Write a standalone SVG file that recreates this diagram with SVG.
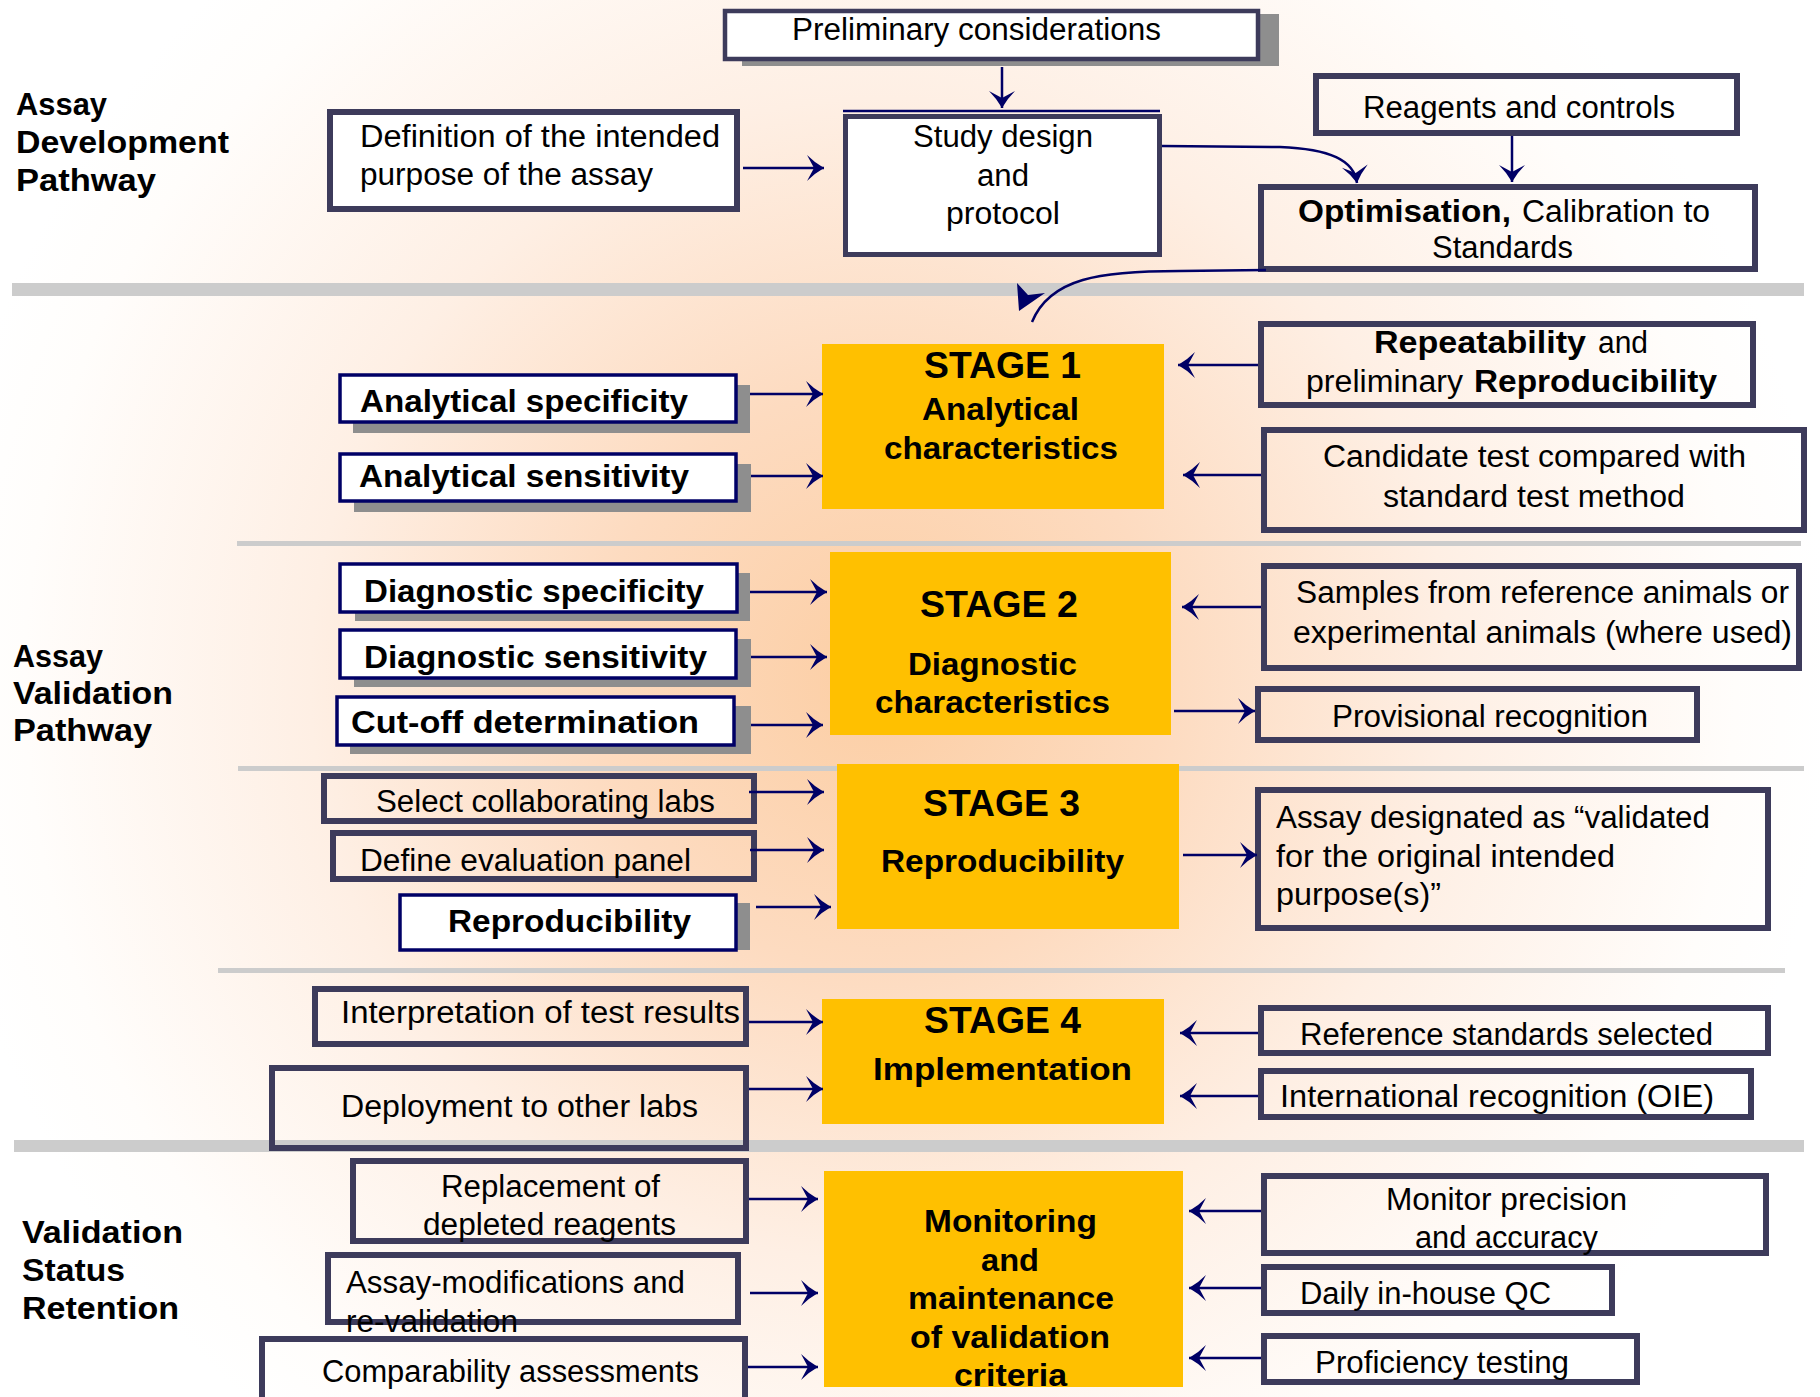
<svg xmlns="http://www.w3.org/2000/svg" width="1820" height="1397" viewBox="0 0 1820 1397">
<defs>
<radialGradient id="bg" gradientUnits="userSpaceOnUse" cx="880" cy="680" r="950" gradientTransform="translate(880 680) scale(1 1.02) translate(-880 -680)">
<stop offset="0" stop-color="#FCCEA4"/>
<stop offset="0.3" stop-color="#FDDBC0"/>
<stop offset="0.6" stop-color="#FEEFE4"/>
<stop offset="0.9" stop-color="#FFFDFB"/>
<stop offset="1" stop-color="#FFFFFF"/>
</radialGradient>
<marker id="ah" markerUnits="userSpaceOnUse" viewBox="-18 -14 19 28" refX="0" refY="0" markerWidth="19" markerHeight="28" orient="auto">
<path d="M0,0 Q-9,-5 -17,-13 L-10,0 L-17,13 Q-9,5 0,0 Z" fill="#000066"/>
</marker>
<style>
.t{font-family:"Liberation Sans",Arial,sans-serif;font-size:31px;fill:#000}
.b{font-weight:bold}
.st{font-size:37px;font-weight:bold}
.box{fill:none;stroke:#3D3B5B;stroke-width:6}
.wbox{fill:#fff;stroke:#3D3B5B;stroke-width:5}
.nbox{fill:#fff;stroke:#000066;stroke-width:3.5}
.sh{fill:#8E8E8E}
.y{fill:#FFC000}
.sep{fill:#CCCCCC}
.c{fill:none;stroke:#000066;stroke-width:2.5}
</style>
</defs>
<rect x="0" y="0" width="1820" height="1397" fill="url(#bg)"/>
<g id="separators">
<rect class="sep" x="12" y="283" width="1792" height="13"/>
<rect class="sep" x="237" y="541" width="1564" height="5"/>
<rect class="sep" x="238" y="766" width="1566" height="5"/>
<rect class="sep" x="218" y="968" width="1567" height="5"/>
<rect class="sep" x="14" y="1140" width="1790" height="12"/>
</g>
<g id="section-labels">
<text class="t b" x="16" y="115" textLength="91" lengthAdjust="spacingAndGlyphs">Assay</text>
<text class="t b" x="16" y="153" textLength="213" lengthAdjust="spacingAndGlyphs">Development</text>
<text class="t b" x="16" y="191" textLength="140" lengthAdjust="spacingAndGlyphs">Pathway</text>
<text class="t b" x="13" y="667" textLength="90" lengthAdjust="spacingAndGlyphs">Assay</text>
<text class="t b" x="13" y="704" textLength="160" lengthAdjust="spacingAndGlyphs">Validation</text>
<text class="t b" x="13" y="741" textLength="139" lengthAdjust="spacingAndGlyphs">Pathway</text>
<text class="t b" x="22" y="1243" textLength="161" lengthAdjust="spacingAndGlyphs">Validation</text>
<text class="t b" x="22" y="1281" textLength="103" lengthAdjust="spacingAndGlyphs">Status</text>
<text class="t b" x="22" y="1319" textLength="157" lengthAdjust="spacingAndGlyphs">Retention</text>
</g>
<g id="preliminary">
<rect class="sh" x="742" y="14" width="537" height="52"/>
<rect x="725" y="11" width="533" height="48" fill="#fff" stroke="#3D3B5B" stroke-width="4.5"/>
<text class="t" x="792" y="40" textLength="369" lengthAdjust="spacingAndGlyphs">Preliminary considerations</text>
</g>
<g id="definition">
<rect class="box" x="330" y="112" width="407" height="97" fill="#fff" style="fill:#fff"/>
<text class="t" x="360" y="147" textLength="360" lengthAdjust="spacingAndGlyphs">Definition of the intended</text>
<text class="t" x="360" y="185" textLength="293" lengthAdjust="spacingAndGlyphs">purpose of the assay</text>
</g>
<g id="study-design">
<rect class="wbox" x="845.5" y="116.5" width="314" height="138"/>
<line x1="843" y1="111" x2="1160" y2="111" stroke="#000066" stroke-width="2.5"/>
<text class="t" x="913" y="147" textLength="180" lengthAdjust="spacingAndGlyphs">Study design</text>
<text class="t" x="977" y="186" textLength="52" lengthAdjust="spacingAndGlyphs">and</text>
<text class="t" x="946" y="224" textLength="114" lengthAdjust="spacingAndGlyphs">protocol</text>
</g>
<g id="reagents">
<rect class="box" x="1316" y="76" width="421" height="57"/>
<text class="t" x="1363" y="118" textLength="312" lengthAdjust="spacingAndGlyphs">Reagents and controls</text>
</g>
<g id="optimisation">
<rect class="box" x="1261" y="187" width="494" height="82"/>
<text class="t b" x="1298" y="222" textLength="213" lengthAdjust="spacingAndGlyphs">Optimisation,</text>
<text class="t" x="1522" y="222" textLength="188" lengthAdjust="spacingAndGlyphs">Calibration to</text>
<text class="t" x="1432" y="258" textLength="141" lengthAdjust="spacingAndGlyphs">Standards</text>
</g>
<g id="analytical-specificity">
<rect class="sh" x="353" y="385" width="397" height="48"/>
<rect class="nbox" x="340" y="375" width="396" height="47"/>
<text class="t b" x="360" y="412" textLength="328" lengthAdjust="spacingAndGlyphs">Analytical specificity</text>
</g>
<g id="analytical-sensitivity">
<rect class="sh" x="354" y="464" width="397" height="48"/>
<rect class="nbox" x="340" y="454" width="396" height="47"/>
<text class="t b" x="359" y="487" textLength="330" lengthAdjust="spacingAndGlyphs">Analytical sensitivity</text>
</g>
<g id="stage1">
<rect class="y" x="822" y="344" width="342" height="165"/>
<text class="t st" x="924" y="378" textLength="157" lengthAdjust="spacingAndGlyphs">STAGE 1</text>
<text class="t b" x="922" y="420" textLength="157" lengthAdjust="spacingAndGlyphs">Analytical</text>
<text class="t b" x="884" y="459" textLength="234" lengthAdjust="spacingAndGlyphs">characteristics</text>
</g>
<g id="repeatability">
<rect class="box" x="1261" y="324" width="492" height="81"/>
<text class="t b" x="1374" y="353" textLength="212" lengthAdjust="spacingAndGlyphs">Repeatability</text>
<text class="t" x="1598" y="353" textLength="50" lengthAdjust="spacingAndGlyphs">and</text>
<text class="t" x="1306" y="392" textLength="157" lengthAdjust="spacingAndGlyphs">preliminary</text>
<text class="t b" x="1474" y="392" textLength="243" lengthAdjust="spacingAndGlyphs">Reproducibility</text>
</g>
<g id="candidate">
<rect class="box" x="1264" y="430" width="540" height="100"/>
<text class="t" x="1323" y="467" textLength="423" lengthAdjust="spacingAndGlyphs">Candidate test compared with</text>
<text class="t" x="1383" y="507" textLength="302" lengthAdjust="spacingAndGlyphs">standard test method</text>
</g>
<g id="diagnostic-specificity">
<rect class="sh" x="355" y="573" width="395" height="48"/>
<rect class="nbox" x="340" y="564" width="397" height="48"/>
<text class="t b" x="364" y="602" textLength="340" lengthAdjust="spacingAndGlyphs">Diagnostic specificity</text>
</g>
<g id="diagnostic-sensitivity">
<rect class="sh" x="354" y="639" width="397" height="48"/>
<rect class="nbox" x="340" y="630" width="396" height="48"/>
<text class="t b" x="364" y="668" textLength="343" lengthAdjust="spacingAndGlyphs">Diagnostic sensitivity</text>
</g>
<g id="cutoff">
<rect class="sh" x="350" y="706" width="401" height="48"/>
<rect class="nbox" x="337" y="697" width="397" height="48"/>
<text class="t b" x="351" y="733" textLength="348" lengthAdjust="spacingAndGlyphs">Cut-off determination</text>
</g>
<g id="stage2">
<rect class="y" x="830" y="552" width="341" height="183"/>
<text class="t st" x="920" y="617" textLength="158" lengthAdjust="spacingAndGlyphs">STAGE 2</text>
<text class="t b" x="908" y="675" textLength="169" lengthAdjust="spacingAndGlyphs">Diagnostic</text>
<text class="t b" x="875" y="713" textLength="235" lengthAdjust="spacingAndGlyphs">characteristics</text>
</g>
<g id="samples">
<rect class="box" x="1264" y="566" width="535" height="102"/>
<text class="t" x="1296" y="603" textLength="493" lengthAdjust="spacingAndGlyphs">Samples from reference animals or</text>
<text class="t" x="1293" y="643" textLength="499" lengthAdjust="spacingAndGlyphs">experimental animals (where used)</text>
</g>
<g id="provisional">
<rect class="box" x="1258" y="689" width="439" height="51"/>
<text class="t" x="1332" y="727" textLength="316" lengthAdjust="spacingAndGlyphs">Provisional recognition</text>
</g>
<g id="select-labs">
<rect class="box" x="324" y="776" width="430" height="45"/>
<text class="t" x="376" y="812" textLength="339" lengthAdjust="spacingAndGlyphs">Select collaborating labs</text>
</g>
<g id="define-panel">
<rect class="box" x="333" y="833" width="421" height="46"/>
<text class="t" x="360" y="871" textLength="331" lengthAdjust="spacingAndGlyphs">Define evaluation panel</text>
</g>
<g id="reproducibility">
<rect class="sh" x="411" y="903" width="339" height="47"/>
<rect class="nbox" x="400" y="895" width="336" height="55"/>
<text class="t b" x="448" y="932" textLength="243" lengthAdjust="spacingAndGlyphs">Reproducibility</text>
</g>
<g id="stage3">
<rect class="y" x="837" y="764" width="342" height="165"/>
<text class="t st" x="923" y="816" textLength="157" lengthAdjust="spacingAndGlyphs">STAGE 3</text>
<text class="t b" x="881" y="872" textLength="243" lengthAdjust="spacingAndGlyphs">Reproducibility</text>
</g>
<g id="assay-designated">
<rect class="box" x="1258" y="790" width="510" height="138"/>
<text class="t" x="1276" y="828" textLength="434" lengthAdjust="spacingAndGlyphs">Assay designated as “validated</text>
<text class="t" x="1276" y="867" textLength="339" lengthAdjust="spacingAndGlyphs">for the original intended</text>
<text class="t" x="1276" y="905" textLength="165" lengthAdjust="spacingAndGlyphs">purpose(s)”</text>
</g>
<g id="interpretation">
<rect class="box" x="315" y="989" width="431" height="55"/>
<text class="t" x="341" y="1023" textLength="399" lengthAdjust="spacingAndGlyphs">Interpretation of test results</text>
</g>
<g id="deployment">
<rect class="box" x="272" y="1068" width="474" height="80"/>
<text class="t" x="341" y="1117" textLength="357" lengthAdjust="spacingAndGlyphs">Deployment to other labs</text>
</g>
<g id="stage4">
<rect class="y" x="822" y="999" width="342" height="125"/>
<text class="t st" x="924" y="1033" textLength="157" lengthAdjust="spacingAndGlyphs">STAGE 4</text>
<text class="t b" x="873" y="1080" textLength="259" lengthAdjust="spacingAndGlyphs">Implementation</text>
</g>
<g id="reference-standards">
<rect class="box" x="1261" y="1008" width="507" height="45"/>
<text class="t" x="1300" y="1045" textLength="413" lengthAdjust="spacingAndGlyphs">Reference standards selected</text>
</g>
<g id="international">
<rect class="box" x="1261" y="1071" width="490" height="46"/>
<text class="t" x="1280" y="1107" textLength="434" lengthAdjust="spacingAndGlyphs">International recognition (OIE)</text>
</g>
<g id="replacement">
<rect class="box" x="353" y="1161" width="393" height="80"/>
<text class="t" x="441" y="1197" textLength="219" lengthAdjust="spacingAndGlyphs">Replacement of</text>
<text class="t" x="423" y="1235" textLength="253" lengthAdjust="spacingAndGlyphs">depleted reagents</text>
</g>
<g id="assay-modifications">
<rect class="box" x="328" y="1255" width="410" height="67"/>
<text class="t" x="346" y="1293" textLength="339" lengthAdjust="spacingAndGlyphs">Assay-modifications and</text>
<text class="t" x="346" y="1332" textLength="172" lengthAdjust="spacingAndGlyphs">re-validation</text>
</g>
<g id="comparability">
<rect class="box" x="262" y="1339" width="483" height="70"/>
<text class="t" x="322" y="1382" textLength="377" lengthAdjust="spacingAndGlyphs">Comparability assessments</text>
</g>
<g id="monitoring">
<rect class="y" x="824" y="1171" width="359" height="216"/>
<text class="t b" x="924" y="1232" textLength="173" lengthAdjust="spacingAndGlyphs">Monitoring</text>
<text class="t b" x="981" y="1271" textLength="58" lengthAdjust="spacingAndGlyphs">and</text>
<text class="t b" x="908" y="1309" textLength="206" lengthAdjust="spacingAndGlyphs">maintenance</text>
<text class="t b" x="910" y="1348" textLength="200" lengthAdjust="spacingAndGlyphs">of validation</text>
<text class="t b" x="954" y="1386" textLength="113" lengthAdjust="spacingAndGlyphs">criteria</text>
</g>
<g id="monitor-precision">
<rect class="box" x="1264" y="1176" width="502" height="77"/>
<text class="t" x="1386" y="1210" textLength="241" lengthAdjust="spacingAndGlyphs">Monitor precision</text>
<text class="t" x="1415" y="1248" textLength="183" lengthAdjust="spacingAndGlyphs">and accuracy</text>
</g>
<g id="daily-qc">
<rect class="box" x="1264" y="1267" width="348" height="46"/>
<text class="t" x="1300" y="1304" textLength="251" lengthAdjust="spacingAndGlyphs">Daily in-house QC</text>
</g>
<g id="proficiency">
<rect class="box" x="1264" y="1336" width="373" height="46"/>
<text class="t" x="1315" y="1373" textLength="254" lengthAdjust="spacingAndGlyphs">Proficiency testing</text>
</g>
<g id="connectors">
<path class="c" d="M1002,67 L1002,108" marker-end="url(#ah)"/>
<path class="c" d="M743,168 L824,168" marker-end="url(#ah)"/>
<path class="c" d="M1162,146 L1280,147 C1330,149 1354,160 1357,183" marker-end="url(#ah)"/>
<path class="c" d="M1512,136 L1512,182" marker-end="url(#ah)"/>
<path class="c" d="M1266,270 L1180,271 C1100,271 1050,278 1032,322"/>
<polygon points="1019,311 1017,283 1028,295 1045,293" fill="#000066"/>
<path class="c" d="M750,394 L823,394" marker-end="url(#ah)"/>
<path class="c" d="M751,476 L823,476" marker-end="url(#ah)"/>
<path class="c" d="M1258,365 L1178,365" marker-end="url(#ah)"/>
<path class="c" d="M1261,475 L1183,475" marker-end="url(#ah)"/>
<path class="c" d="M750,592 L827,592" marker-end="url(#ah)"/>
<path class="c" d="M751,657 L827,657" marker-end="url(#ah)"/>
<path class="c" d="M751,725 L823,725" marker-end="url(#ah)"/>
<path class="c" d="M1261,607 L1182,607" marker-end="url(#ah)"/>
<path class="c" d="M1174,711 L1255,711" marker-end="url(#ah)"/>
<path class="c" d="M749,792 L824,792" marker-end="url(#ah)"/>
<path class="c" d="M750,850 L824,850" marker-end="url(#ah)"/>
<path class="c" d="M756,907 L831,907" marker-end="url(#ah)"/>
<path class="c" d="M1183,855 L1257,855" marker-end="url(#ah)"/>
<path class="c" d="M749,1022 L823,1022" marker-end="url(#ah)"/>
<path class="c" d="M749,1089 L823,1089" marker-end="url(#ah)"/>
<path class="c" d="M1258,1033 L1180,1033" marker-end="url(#ah)"/>
<path class="c" d="M1258,1096 L1180,1096" marker-end="url(#ah)"/>
<path class="c" d="M749,1199 L818,1199" marker-end="url(#ah)"/>
<path class="c" d="M750,1293 L818,1293" marker-end="url(#ah)"/>
<path class="c" d="M748,1367 L818,1367" marker-end="url(#ah)"/>
<path class="c" d="M1261,1211 L1189,1211" marker-end="url(#ah)"/>
<path class="c" d="M1261,1288 L1189,1288" marker-end="url(#ah)"/>
<path class="c" d="M1261,1358 L1189,1358" marker-end="url(#ah)"/>
</g>
</svg>
